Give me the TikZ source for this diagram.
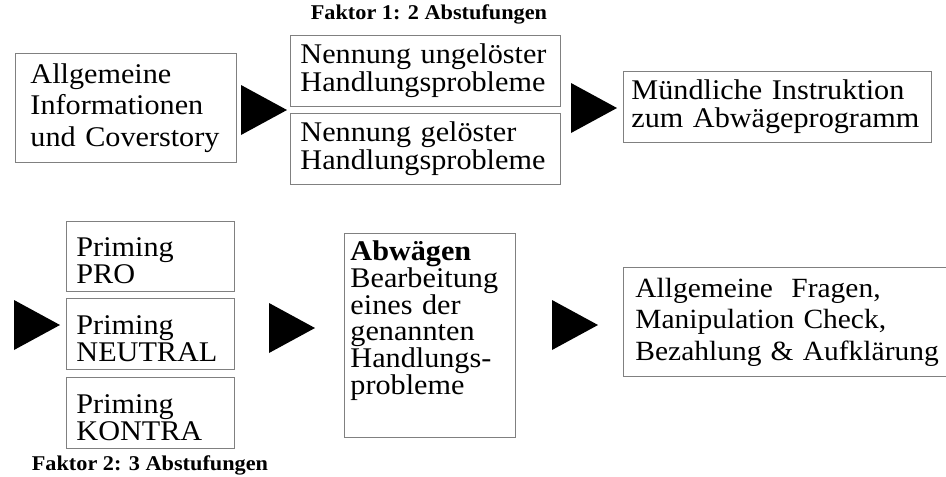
\documentclass[tikz,border=0pt]{standalone}
\usepackage{fontspec}
\setmainfont{Liberation Serif}[FakeStretch=1.06]

\tikzset{
  kasten/.style={draw=black!50, line width=0.9pt, align=left, anchor=north west,
    inner ysep=0pt, font=\fontsize{28.5}{28}\selectfont},
  priming/.style={kasten, text width=148pt, inner xsep=10pt, minimum height=71pt,
    text height=28pt, font=\fontsize{28.5}{26.7}\selectfont},
  faktor/.style={font=\fontsize{21}{24}\bfseries\selectfont},
}

\begin{document}
\begin{tikzpicture}[x=1pt,y=-1pt]
  \useasboundingbox (0,0) rectangle (946,477);
  % obere Reihe
  \node[faktor] (faktor1) at (429,14) {Faktor 1: 2 Abstufungen};
  \node[kasten, text width=191pt, inner xsep=15pt, minimum height=109pt,
    font=\fontsize{28.5}{31.5}\selectfont] (info) at (15,53)
    {Allgemeine\\Informationen\\und Coverstory};
  \node[kasten, text width=250pt, inner xsep=10pt, minimum height=71pt] (ungeloest) at (290,35)
    {Nennung ungelöster\\Handlungsprobleme};
  \node[kasten, text width=250pt, inner xsep=10pt, minimum height=71pt] (geloest) at (290,113)
    {Nennung gelöster\\Handlungsprobleme};
  \node[kasten, text width=292pt, inner xsep=8pt, minimum height=71pt] (instruktion) at (623,71)
    {Mündliche Instruktion\\zum Abwägeprogramm};
  % untere Reihe
  \node[priming, minimum height=70pt] (pro) at (66,221) {Priming\\PRO};
  \node[priming] (neutral) at (66,298) {Priming\\NEUTRAL};
  \node[priming] (kontra) at (66,377) {Priming\\KONTRA};
  \node[faktor] (faktor2) at (150,465) {Faktor 2: 3 Abstufungen};
  \node[kasten, text width=159pt, inner xsep=6pt, minimum height=204pt, text depth=169pt,
    font=\fontsize{28.5}{26.7}\selectfont] (abwaegen) at (344,233)
    {\textbf{Abwägen}\\Bearbeitung\\eines der\\genannten\\Handlungs-\\probleme};
  \node[kasten, text width=320pt, inner xsep=12pt, minimum height=109pt,
    font=\fontsize{27.8}{31.5}\selectfont] (abschluss) at (623,267)
    {Allgemeine\ \ Fragen,\\Manipulation Check,\\Bezahlung \& Aufklärung};
  % Pfeile
  \coordinate (t1) at (287,110);
  \coordinate (t2) at (617,108);
  \coordinate (t3) at (60,325);
  \coordinate (t4) at (315,328);
  \coordinate (t5) at (598,325);
  \foreach \t in {t1,t2,t3,t4,t5}
    \fill (\t) -- ++(-46,-25) -- ++(0,50) -- cycle;
\end{tikzpicture}
\end{document}
